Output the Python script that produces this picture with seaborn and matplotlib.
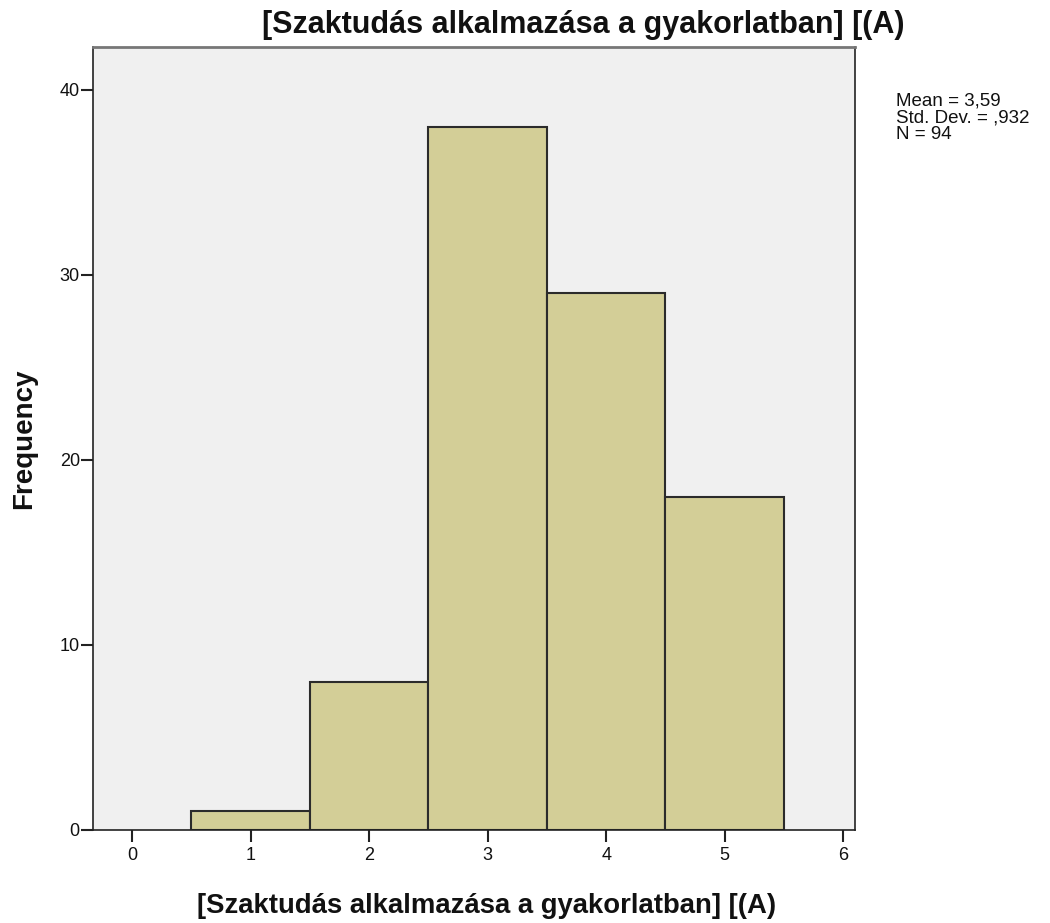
import matplotlib
matplotlib.use("Agg")
import matplotlib.pyplot as plt
import seaborn as sns

sns.set_theme(style="white")
plt.rcParams['font.family'] = ['Liberation Sans', 'DejaVu Sans']

values = [1, 2, 3, 4, 5]
counts = [1, 8, 38, 29, 18]
title = "[Szaktudás alkalmazása a gyakorlatban] [(A)"
stats_text = "Mean = 3,59\nStd. Dev. = ,932\nN = 94"

fig = plt.figure(figsize=(10.5, 9.23), dpi=100)
ax = fig.add_axes([0.0886, 0.1008, 0.7257, 0.8482])
ax.set_facecolor("#F0F0F0")

sns.histplot(x=values, weights=counts, discrete=True, ax=ax,
             color="#D3CE97", alpha=1, edgecolor="#2b2b2b", linewidth=1.5)

ax.set_xlim(-0.33, 6.1)
ax.set_ylim(0, 42.3)
ax.set_xticks(range(0, 7))
ax.set_yticks([0, 10, 20, 30, 40])
ax.tick_params(axis="both", direction="out", length=8.5, width=1.5,
               color="#222222", labelsize=13, labelcolor="#111111",
               bottom=True, left=True)
ax.tick_params(axis="x", pad=4)
ax.tick_params(axis="y", pad=1)

for side in ["left", "bottom", "right"]:
    ax.spines[side].set_color("#222222")
    ax.spines[side].set_linewidth(1.2)
ax.spines["top"].set_color("#777777")
ax.spines["top"].set_linewidth(2)

ax.set_ylabel("Frequency", fontsize=20, fontweight="bold", color="#111111")
ax.yaxis.set_label_coords(-0.073, 0.5)
ax.set_xlabel(title, fontsize=19.8, fontweight="bold", color="#111111")
ax.xaxis.set_label_coords(0.517, -0.08)

fig.text(0.555, 0.973, title, fontsize=22, fontweight="bold",
         ha="center", va="center", color="#111111")
fig.text(0.853, 0.900, stats_text, fontsize=13.5, ha="left", va="top",
         linespacing=1.0, color="#111111")

fig.savefig("out.png", dpi=100)
